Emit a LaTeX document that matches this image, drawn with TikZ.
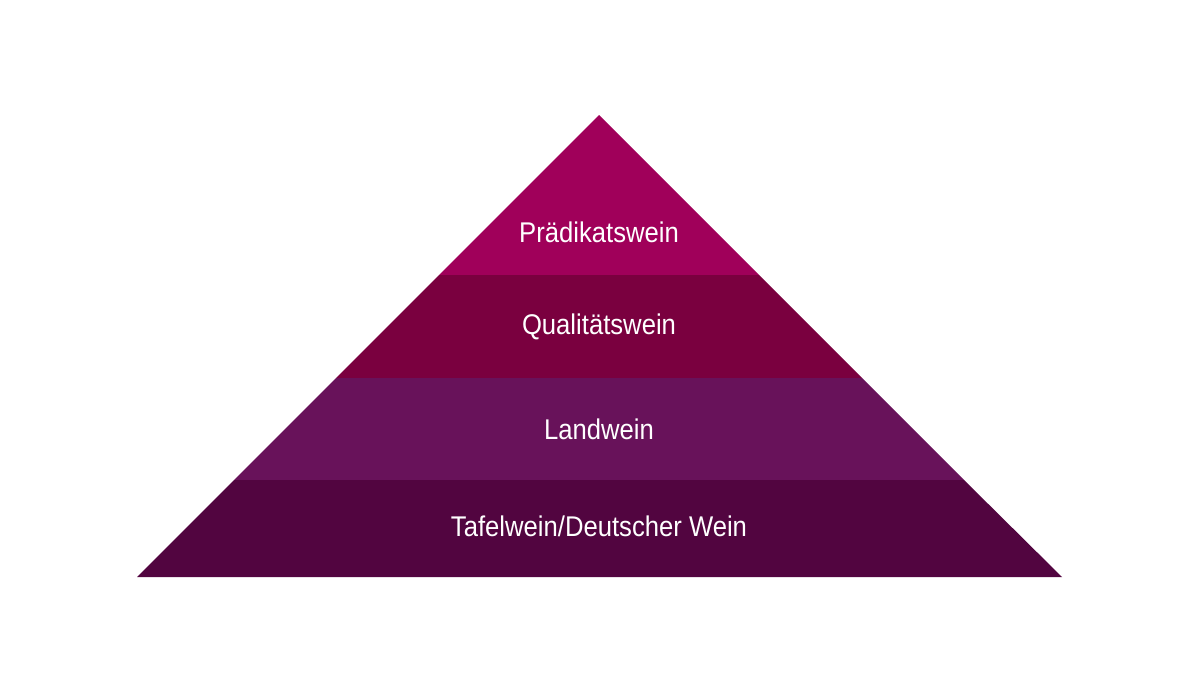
\documentclass[tikz,border=0pt]{standalone}
\usepackage{fontspec}
\setmainfont{Liberation Sans}
\definecolor{c1}{HTML}{A0005A}
\definecolor{c2}{HTML}{7A003F}
\definecolor{c3}{HTML}{68125A}
\definecolor{c4}{HTML}{520540}
\begin{document}
\begin{tikzpicture}[x=1pt,y=-1pt,lbl/.style={text=white,font=\fontsize{28.5}{31}\selectfont,xscale=0.9}]
\useasboundingbox (0,0) rectangle (1200,675);
\fill[c1] (599,115) -- (759,275) -- (439,275) -- cycle;
\fill[c2] (439,275) -- (759,275) -- (862,378) -- (336,378) -- cycle;
\fill[c3] (336,378) -- (862,378) -- (964,480) -- (234,480) -- cycle;
\fill[c4] (234,480) -- (964,480) -- (1062,577) -- (137,577) -- cycle;
\node[lbl] (p) at (599,232) {Prädikatswein};
\node[lbl] (q) at (599,327) {Qualitätswein};
\node[lbl] (l) at (599,429) {Landwein};
\node[lbl] (t) at (599,526) {Tafelwein/Deutscher Wein};
\end{tikzpicture}
\end{document}
